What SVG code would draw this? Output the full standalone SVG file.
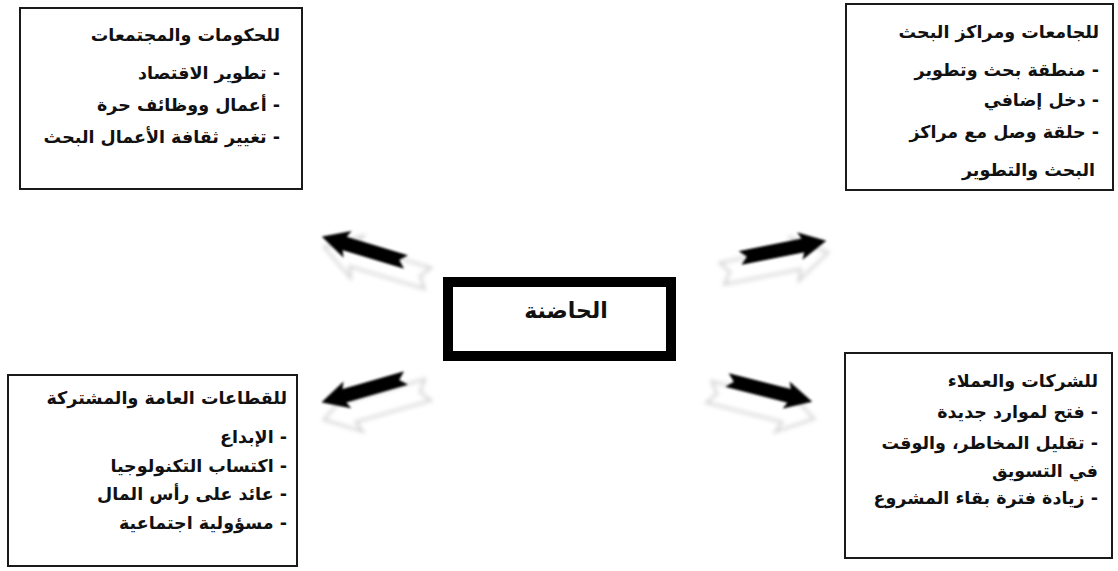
<svg xmlns="http://www.w3.org/2000/svg" width="1118" height="571" viewBox="0 0 1118 571">
  <defs>
    <style>
      .box { fill: #ffffff; stroke: #1a1a1a; stroke-width: 2; }
      .hub { fill: #ffffff; stroke: #000000; stroke-width: 10; }
      .lbl { font-family: "DejaVu Sans", "Noto Sans", sans-serif; font-weight: bold; font-size: 17.5px; fill: #111111; direction: rtl; text-anchor: start; }
      .hubtxt { font-family: "DejaVu Sans", "Noto Sans", sans-serif; font-weight: bold; font-size: 22px; fill: #111111; direction: rtl; text-anchor: middle; }
      .arr { fill: #000000; }
      .shade { fill: #ffffff; stroke: #d2d2d2; stroke-width: 2.5; filter: url(#soft); }
    </style>
    <filter id="soft" x="-20%" y="-50%" width="140%" height="200%">
      <feGaussianBlur stdDeviation="2"/>
    </filter>
    <filter id="edge" x="-10%" y="-40%" width="120%" height="180%">
      <feGaussianBlur stdDeviation="0.8"/>
    </filter>
    <!-- block arrow, tail at origin, pointing along +x -->
    <path id="blk" d="M0,-7 L64,-7 L61,-14 L88,0 L61,14 L64,7 L0,7 L7,0 Z"/>
    <!-- hollow back-plate drawn under each block arrow -->
    <path id="plate" d="M-8,-11 L70,-11 L66,-22 L100,0 L66,22 L70,11 L-8,11 L0,0 Z"/>
  </defs>

  <rect width="1118" height="571" fill="#ffffff"/>

  <!-- connectors: four block arrows leaving the hub -->
  <g id="connectors">
    <g id="arrow-top-left">
      <use href="#plate" class="shade" transform="translate(420,276) rotate(196.8)"/>
      <use href="#blk" class="arr" filter="url(#edge)" transform="translate(406,262) rotate(196.8)"/>
    </g>
    <g id="arrow-top-right">
      <use href="#plate" class="shade" transform="translate(730,272) rotate(-11.3)"/>
      <use href="#blk" class="arr" filter="url(#edge)" transform="translate(740,258) rotate(-11.3)"/>
    </g>
    <g id="arrow-bottom-left">
      <use href="#plate" class="shade" transform="translate(420,392) rotate(163.9)"/>
      <use href="#blk" class="arr" filter="url(#edge)" transform="translate(406,378) rotate(163.9)"/>
    </g>
    <g id="arrow-bottom-right">
      <use href="#plate" class="shade" transform="translate(717,394) rotate(14.3)"/>
      <use href="#blk" class="arr" filter="url(#edge)" transform="translate(727,380) rotate(14.3)"/>
    </g>
  </g>

  <!-- central node -->
  <g id="hub">
    <rect class="hub" x="448" y="282" width="223" height="74"/>
    <text class="hubtxt" x="566" y="318">الحاضنة</text>
  </g>

  <!-- governments and societies -->
  <g id="governments">
    <rect class="box" x="20" y="8" width="282" height="181"/>
    <text class="lbl" x="280" y="41">للحكومات والمجتمعات</text>
    <text class="lbl" x="280" y="79">- تطوير الاقتصاد</text>
    <text class="lbl" x="280" y="111">- أعمال ووظائف حرة</text>
    <text class="lbl" x="280" y="143">- تغيير ثقافة الأعمال البحث</text>
  </g>

  <!-- universities and research centres -->
  <g id="universities">
    <rect class="box" x="846" y="4" width="267" height="186"/>
    <text class="lbl" x="1099" y="38">للجامعات ومراكز البحث</text>
    <text class="lbl" x="1099" y="76">- منطقة بحث وتطوير</text>
    <text class="lbl" x="1099" y="106">- دخل إضافي</text>
    <text class="lbl" x="1099" y="138">- حلقة وصل مع مراكز</text>
    <text class="lbl" x="1095" y="176">البحث والتطوير</text>
  </g>

  <!-- public and joint sectors -->
  <g id="public-sectors">
    <rect class="box" x="8" y="375" width="289" height="191"/>
    <text class="lbl" x="287" y="404">للقطاعات العامة والمشتركة</text>
    <text class="lbl" x="287" y="443">- الإبداع</text>
    <text class="lbl" x="287" y="472">- اكتساب التكنولوجيا</text>
    <text class="lbl" x="287" y="500">- عائد على رأس المال</text>
    <text class="lbl" x="287" y="529">- مسؤولية اجتماعية</text>
  </g>

  <!-- companies and clients -->
  <g id="companies">
    <rect class="box" x="845" y="353" width="267" height="205"/>
    <text class="lbl" x="1098" y="387">للشركات والعملاء</text>
    <text class="lbl" x="1098" y="418">- فتح لموارد جديدة</text>
    <text class="lbl" x="1098" y="449">- تقليل المخاطر، والوقت</text>
    <text class="lbl" x="1098" y="477">في التسويق</text>
    <text class="lbl" x="1098" y="504">- زيادة فترة بقاء المشروع</text>
  </g>
</svg>
